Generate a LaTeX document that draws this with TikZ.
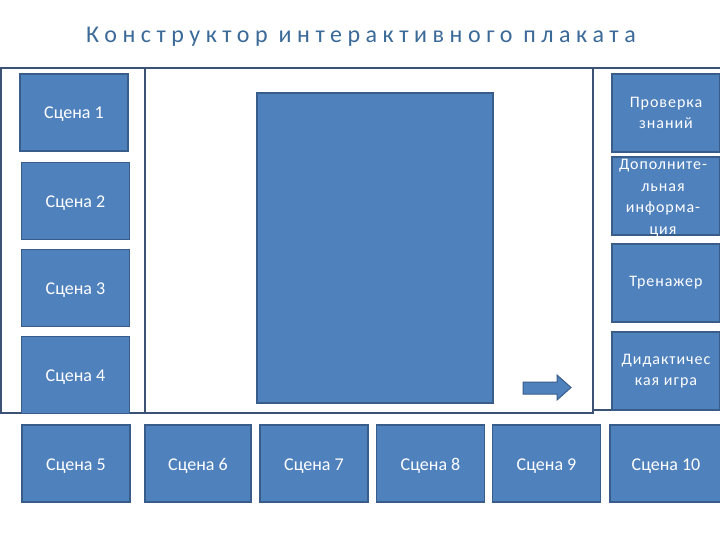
\documentclass[tikz,border=0pt]{standalone}
\usepackage{fontspec}
\setmainfont{Carlito}
\newfontfamily\titlefont[LetterSpace=23]{Carlito}
\newfontfamily\spacedfont[LetterSpace=6]{Carlito}
\definecolor{boxblue}{HTML}{4F81BD}
\definecolor{boxedge}{HTML}{385D8A}
\definecolor{frameedge}{HTML}{3B5275}
\definecolor{titleblue}{HTML}{3C6A98}
\begin{document}
\begin{tikzpicture}[x=1pt,y=-1pt,
  frame/.style={draw=frameedge,line width=1.6pt},
  scene/.style={draw=boxedge,line width=1.5pt,fill=boxblue,text=white,
    font=\fontsize{18}{21}\selectfont,inner sep=0pt,text height=13pt,text depth=0pt},
  sidebox/.style={draw=boxedge,line width=1.5pt,fill=boxblue,text=white,
    font=\spacedfont\fontsize{16}{21}\selectfont,align=center,inner sep=0pt}]
\useasboundingbox[fill=white] (0,0) rectangle (720,540);
% title
\node[text=titleblue,font=\titlefont\fontsize{24}{27}\selectfont,anchor=base] (title) at (361,43) {Конструктор интерактивного плаката};
% frames
\draw[frame] (1,68) rectangle (145,413);
\draw[frame] (145,68) rectangle (593,413);
\draw[frame] (593,68) rectangle (723,410);
% left column scenes
\node[scene,minimum width=108pt,minimum height=77pt] (s1) at (74,112.5) {Сцена 1};
\node[scene,minimum width=108pt,minimum height=77pt] (s2) at (75.5,201) {Сцена 2};
\node[scene,minimum width=108pt,minimum height=77pt] (s3) at (75.5,288) {Сцена 3};
\node[scene,minimum width=108pt,minimum height=77pt] (s4) at (75.5,375) {Сцена 4};
% main area
\node[draw=boxedge,line width=1.8pt,fill=boxblue,minimum width=236pt,minimum height=310pt,inner sep=0pt] (main) at (375,248) {};
% arrow
\draw[draw=boxedge,line width=1pt,fill=boxblue] (523,382) -- (557,382) -- (557,375) -- (571,387.5) -- (557,400) -- (557,394) -- (523,394) -- cycle;
% right column
\node[sidebox,minimum width=108pt,minimum height=78pt] (r1) at (666,113) {Проверка\\знаний};
\node[sidebox,minimum width=108pt,minimum height=78pt] (r2) at (666,196) {};
\node[text=white,font=\spacedfont\fontsize{16}{21.5}\selectfont,align=center] (r2t) at (663,198) {Дополните-\\льная\\информа-\\ция};
\node[sidebox,minimum width=108pt,minimum height=78pt] (r3) at (666,283) {Тренажер};
\node[sidebox,minimum width=108pt,minimum height=78pt] (r4) at (666,371) {Дидактичес\\кая игра};
% bottom row
\node[scene,minimum width=108pt,minimum height=77pt] (s5) at (76,463.5) {Сцена 5};
\node[scene,minimum width=106pt,minimum height=77pt] (s6) at (198,463.5) {Сцена 6};
\node[scene,minimum width=108pt,minimum height=77pt] (s7) at (314,463.5) {Сцена 7};
\node[scene,minimum width=108pt,minimum height=77pt] (s8) at (430.5,463.5) {Сцена 8};
\node[scene,minimum width=108pt,minimum height=77pt] (s9) at (546.5,463.5) {Сцена 9};
\node[scene,minimum width=112pt,minimum height=77pt] (s10) at (666,463.5) {Сцена 10};
\end{tikzpicture}
\end{document}
